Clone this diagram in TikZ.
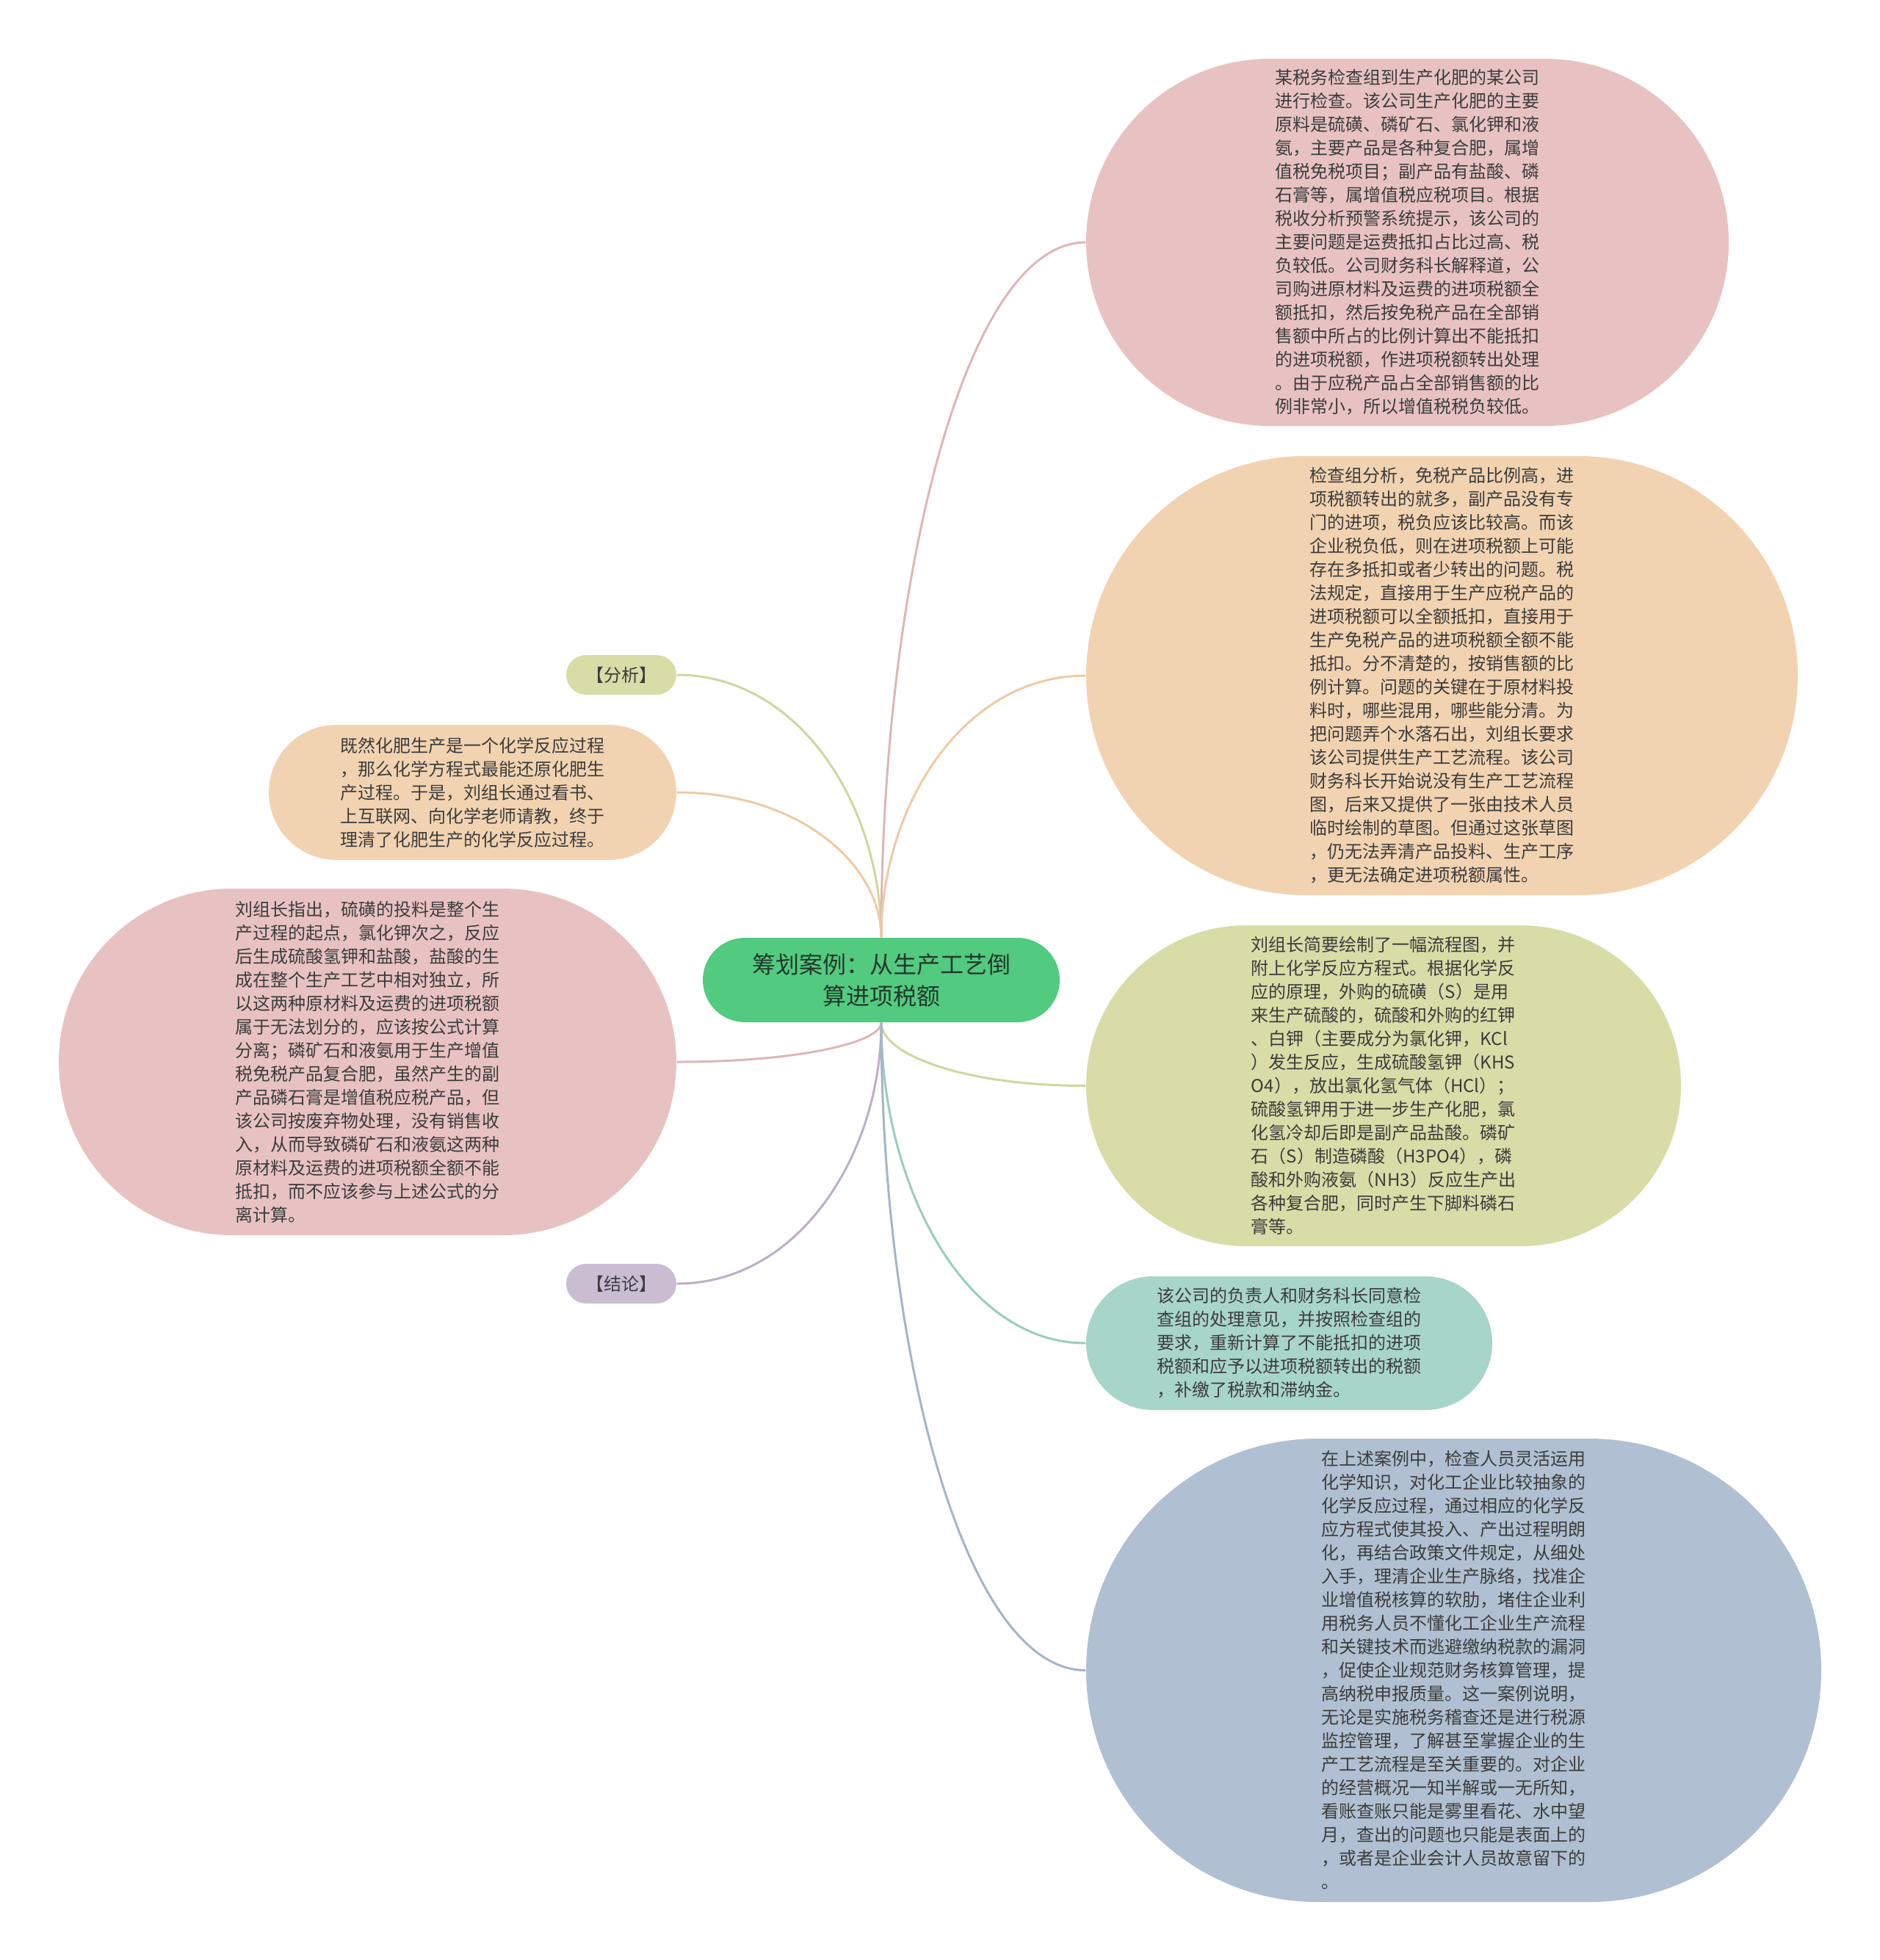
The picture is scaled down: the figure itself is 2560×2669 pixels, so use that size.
\documentclass[tikz,border=0pt]{standalone}
\usepackage{fontspec}
\setmainfont{Noto Sans CJK SC}
\usetikzlibrary{shapes.misc, calc}

\definecolor{topicgreen}{HTML}{52CA80}
\definecolor{topictext}{HTML}{22382A}
\definecolor{bodytext}{HTML}{3C3C3C}
\definecolor{pinkfill}{HTML}{E8C2C2}
\definecolor{orangefill}{HTML}{F2D3B1}
\definecolor{olivefill}{HTML}{DADCA8}
\definecolor{tealfill}{HTML}{A8D5C9}
\definecolor{bluefill}{HTML}{B0C0D2}
\definecolor{purplefill}{HTML}{CABDD2}
\definecolor{pinkline}{HTML}{DFB6B6}
\definecolor{orangeline}{HTML}{EECBA6}
\definecolor{oliveline}{HTML}{D2D69E}
\definecolor{tealline}{HTML}{99CDBF}
\definecolor{blueline}{HTML}{A5B5C8}
\definecolor{purpleline}{HTML}{BDAFC7}

\begin{document}
\begin{tikzpicture}[
  x=0.3pt, y=-0.3pt,
  topic/.style={rounded rectangle, fill=topicgreen, text=topictext, inner sep=0pt,
    font=\fontsize{9.6pt}{12.8pt}\selectfont, align=center},
  bubble/.style={rounded rectangle, inner sep=0pt, text=bodytext,
    font=\fontsize{7.2pt}{9.6pt}\selectfont, align=left},
  tag/.style={rounded rectangle, inner sep=0pt, text=bodytext,
    font=\fontsize{7.2pt}{9.6pt}\selectfont, minimum width=45pt, minimum height=16.2pt},
  branch/.style={line width=0.9pt,
    to path={.. controls ($(\tikztostart)!0.5!(\tikztostart|-\tikztotarget)$)
      and ($(\tikztotarget)!0.6!(\tikztostart|-\tikztotarget)$) .. (\tikztotarget)}}
]

\fill[white] (0,0) rectangle (2560,2669);
\useasboundingbox (0,0) rectangle (2560,2669);

% -------------------------
% Central topic
% -------------------------

\node[topic, minimum width=145.8pt, minimum height=34.5pt] (c) at (1200,1334.5)
  {筹划案例：从生产工艺倒\\算进项税额};

% -------------------------
% Left branches
% -------------------------

\node[tag, fill=olivefill] (fenxi) at (846,919) {【分析】};

\node[bubble, fill=orangefill, minimum width=166.5pt, minimum height=55.2pt] (lorange) at (643.5,1079)
  {既然化肥生产是一个化学反应过程\\
   ，那么化学方程式最能还原化肥生\\
   产过程。于是，刘组长通过看书、\\
   上互联网、向化学老师请教，终于\\
   理清了化肥生产的化学反应过程。};

\node[bubble, fill=pinkfill, minimum width=252.3pt, minimum height=141.6pt] (lpink) at (500.5,1446)
  {刘组长指出，硫磺的投料是整个生\\
   产过程的起点，氯化钾次之，反应\\
   后生成硫酸氢钾和盐酸，盐酸的生\\
   成在整个生产工艺中相对独立，所\\
   以这两种原材料及运费的进项税额\\
   属于无法划分的，应该按公式计算\\
   分离；磷矿石和液氨用于生产增值\\
   税免税产品复合肥，虽然产生的副\\
   产品磷石膏是增值税应税产品，但\\
   该公司按废弃物处理，没有销售收\\
   入，从而导致磷矿石和液氨这两种\\
   原材料及运费的进项税额全额不能\\
   抵扣，而不应该参与上述公式的分\\
   离计算。};

\node[tag, fill=purplefill] (jielun) at (846,1748) {【结论】};

% -------------------------
% Right branches
% -------------------------

\node[bubble, fill=pinkfill, minimum width=262.5pt, minimum height=150pt] (rpink) at (1916.5,330)
  {某税务检查组到生产化肥的某公司\\
   进行检查。该公司生产化肥的主要\\
   原料是硫磺、磷矿石、氯化钾和液\\
   氨，主要产品是各种复合肥，属增\\
   值税免税项目；副产品有盐酸、磷\\
   石膏等，属增值税应税项目。根据\\
   税收分析预警系统提示，该公司的\\
   主要问题是运费抵扣占比过高、税\\
   负较低。公司财务科长解释道，公\\
   司购进原材料及运费的进项税额全\\
   额抵扣，然后按免税产品在全部销\\
   售额中所占的比例计算出不能抵扣\\
   的进项税额，作进项税额转出处理\\
   。由于应税产品占全部销售额的比\\
   例非常小，所以增值税税负较低。};

\node[bubble, fill=orangefill, minimum width=290.7pt, minimum height=179.4pt] (rorange) at (1963.5,920)
  {检查组分析，免税产品比例高，进\\
   项税额转出的就多，副产品没有专\\
   门的进项，税负应该比较高。而该\\
   企业税负低，则在进项税额上可能\\
   存在多抵扣或者少转出的问题。税\\
   法规定，直接用于生产应税产品的\\
   进项税额可以全额抵扣，直接用于\\
   生产免税产品的进项税额全额不能\\
   抵扣。分不清楚的，按销售额的比\\
   例计算。问题的关键在于原材料投\\
   料时，哪些混用，哪些能分清。为\\
   把问题弄个水落石出，刘组长要求\\
   该公司提供生产工艺流程。该公司\\
   财务科长开始说没有生产工艺流程\\
   图，后来又提供了一张由技术人员\\
   临时绘制的草图。但通过这张草图\\
   ，仍无法弄清产品投料、生产工序\\
   ，更无法确定进项税额属性。};

\node[bubble, fill=olivefill, minimum width=243pt, minimum height=131.1pt] (rolive) at (1884,1478.5)
  {刘组长简要绘制了一幅流程图，并\\
   附上化学反应方程式。根据化学反\\
   应的原理，外购的硫磺（S）是用\\
   来生产硫酸的，硫酸和外购的红钾\\
   、白钾（主要成分为氯化钾，KCl\\
   ）发生反应，生成硫酸氢钾（KHS\\
   O4），放出氯化氢气体（HCl）；\\
   硫酸氢钾用于进一步生产化肥，氯\\
   化氢冷却后即是副产品盐酸。磷矿\\
   石（S）制造磷酸（H3PO4），磷\\
   酸和外购液氨（NH3）反应生产出\\
   各种复合肥，同时产生下脚料磷石\\
   膏等。};

\node[bubble, fill=tealfill, minimum width=165.9pt, minimum height=54.6pt] (rteal) at (1755.5,1829)
  {该公司的负责人和财务科长同意检\\
   查组的处理意见，并按照检查组的\\
   要求，重新计算了不能抵扣的进项\\
   税额和应予以进项税额转出的税额\\
   ，补缴了税款和滞纳金。};

\node[bubble, fill=bluefill, minimum width=300.3pt, minimum height=189.3pt] (rblue) at (1979.5,2274.5)
  {在上述案例中，检查人员灵活运用\\
   化学知识，对化工企业比较抽象的\\
   化学反应过程，通过相应的化学反\\
   应方程式使其投入、产出过程明朗\\
   化，再结合政策文件规定，从细处\\
   入手，理清企业生产脉络，找准企\\
   业增值税核算的软肋，堵住企业利\\
   用税务人员不懂化工企业生产流程\\
   和关键技术而逃避缴纳税款的漏洞\\
   ，促使企业规范财务核算管理，提\\
   高纳税申报质量。这一案例说明，\\
   无论是实施税务稽查还是进行税源\\
   监控管理，了解甚至掌握企业的生\\
   产工艺流程是至关重要的。对企业\\
   的经营概况一知半解或一无所知，\\
   看账查账只能是雾里看花、水中望\\
   月，查出的问题也只能是表面上的\\
   ，或者是企业会计人员故意留下的\\
   。};

% -------------------------
% Connectors
% -------------------------

\draw[branch, oliveline] (c.north) to (fenxi.east);
\draw[branch, orangeline] (c.north) to (lorange.east);
\draw[branch, pinkline] (c.north) to (rpink.west);
\draw[branch, orangeline] (c.north) to (rorange.west);

\draw[branch, pinkline] (c.south) to (lpink.east);
\draw[branch, purpleline] (c.south) to (jielun.east);
\draw[branch, oliveline] (c.south) to (rolive.west);
\draw[branch, tealline] (c.south) to (rteal.west);
\draw[branch, blueline] (c.south) to (rblue.west);

\end{tikzpicture}
\end{document}
